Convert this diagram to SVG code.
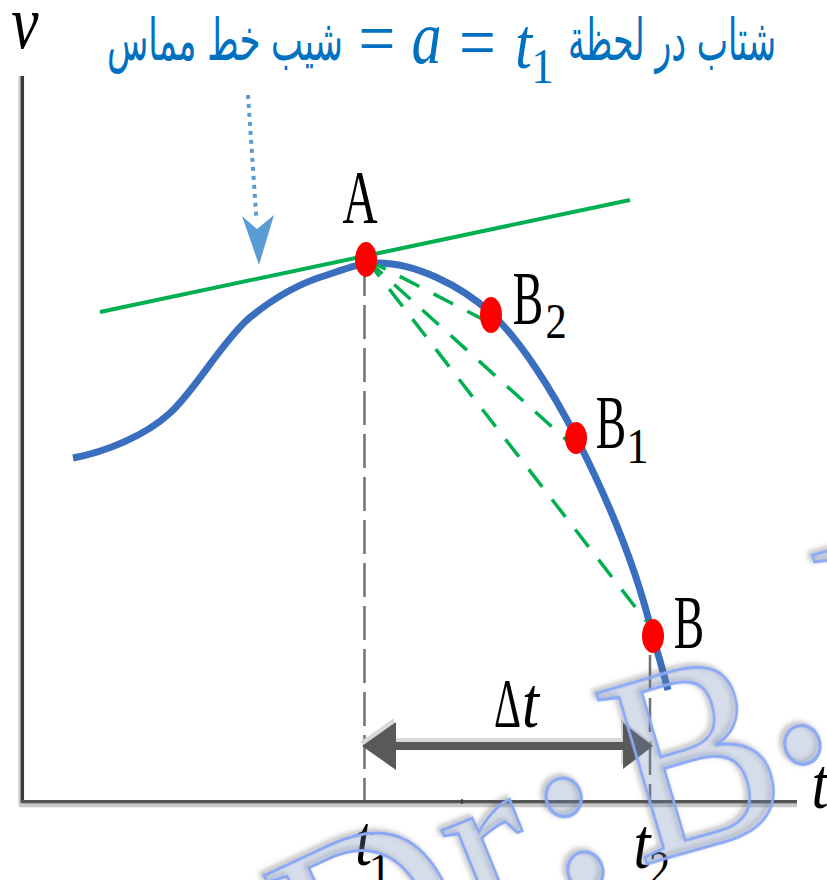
<svg xmlns="http://www.w3.org/2000/svg" width="827" height="880" viewBox="0 0 827 880">
<defs>
<style>
.lbl{font-family:"Liberation Serif","Times New Roman",serif;fill:#000;}
.it{font-style:italic;}
.ttl{fill:#0070c0;}
.ar{font-family:"DejaVu Sans","Noto Sans",sans-serif;fill:#0070c0;}
.wm{font-family:"Liberation Serif","Times New Roman",serif;fill:#7896cd;fill-opacity:0.2;stroke:#8ba8f5;stroke-width:3;}
.sec{fill:none;stroke:#00b050;stroke-width:3.5;stroke-dasharray:22 16;}
.vd{fill:none;stroke:#707070;stroke-width:2.5;stroke-dasharray:34 9;}
.dot{fill:#ff0000;}
</style>
<filter id="sh" x="-30%" y="-30%" width="160%" height="160%">
<feDropShadow dx="-3" dy="-2" stdDeviation="2.5" flood-color="#555" flood-opacity="0.55"/>
</filter>
</defs>
<rect width="827" height="880" fill="#fff"/>
<g id="axes">
<line x1="19.5" y1="76" x2="19.5" y2="805" stroke="#d0d0d0" stroke-width="2.5"/>
<line x1="22.3" y1="76" x2="22.3" y2="803" stroke="#383838" stroke-width="3.5"/>
<line x1="19" y1="805.5" x2="797" y2="805.5" stroke="#c8c8c8" stroke-width="3.5"/>
<line x1="21" y1="801.7" x2="797" y2="801.7" stroke="#555" stroke-width="3.5"/>
<line x1="462" y1="799" x2="462" y2="804" stroke="#333" stroke-width="1.5"/>
</g>
<g id="curve">
<path d="M73,458 C105,452 145,436 170,413 C195,390 220,345 247,320 C274,297 300,283 327,275 C345,269 360,263 378,263 C415,263 460,285 491,313 C520,340 552,390 576,437 C600,484 635,560 653,637 C660,660 664,675 668,690" fill="none" stroke="#3a6fbf" stroke-width="7"/>
</g>
<g id="connectors">
<line x1="100" y1="312" x2="630" y2="200" stroke="#00b050" stroke-width="4"/>
<line class="vd" x1="364.5" y1="262" x2="364.5" y2="800"/>
<line class="vd" x1="650" y1="655" x2="650" y2="800"/>
<line class="sec" x1="366" y1="259" x2="490" y2="323"/>
<line class="sec" x1="366" y1="259" x2="572" y2="445"/>
<line class="sec" x1="366" y1="259" x2="646" y2="621"/>
<line x1="248" y1="95" x2="256.5" y2="220" stroke="#5b9bd5" stroke-width="4" stroke-dasharray="4 5"/>
<polygon points="242,216 257,229 274,215 259,265" fill="#5b9bd5"/>
<g id="delta-arrow">
<path d="M360,742 L394,718 L394,738 L621,738 L621,719 L651,742 L621,765 L621,746 L394,746 L394,766 Z" fill="#d9d9d9"/>
<path d="M362,746 L396,722 L396,742 L623,742 L623,723 L653,746 L623,769 L623,750 L396,750 L396,770 Z" fill="#595959"/>
</g>
</g>
<g id="point-A">
<ellipse class="dot" cx="366" cy="259.5" rx="11" ry="17.5"/>
<text class="lbl" font-size="76" text-anchor="middle" transform="translate(360,223) scale(0.64,1)">A</text>
</g>
<g id="point-B2">
<ellipse class="dot" cx="491" cy="315" rx="11" ry="18"/>
<text class="lbl" font-size="76" text-anchor="middle" transform="translate(528,324) scale(0.6,1)">B</text>
<text class="lbl" font-size="50" text-anchor="middle" transform="translate(556,338) scale(0.85,1)">2</text>
</g>
<g id="point-B1">
<ellipse class="dot" cx="576" cy="438" rx="11" ry="16"/>
<text class="lbl" font-size="76" text-anchor="middle" transform="translate(611,448) scale(0.6,1)">B</text>
<text class="lbl" font-size="50" text-anchor="middle" transform="translate(637.5,463) scale(0.9,1)">1</text>
</g>
<g id="point-B">
<ellipse class="dot" cx="653" cy="636" rx="11" ry="17"/>
<text class="lbl" font-size="76" text-anchor="middle" transform="translate(689,648) scale(0.6,1)">B</text>
</g>
<g id="axis-labels">
<text class="lbl it" font-size="77" text-anchor="middle" transform="translate(25,48) scale(0.8,1)">v</text>
<text class="lbl it" font-size="72" text-anchor="middle" transform="translate(820,808) scale(0.85,1)">t</text>
<text class="lbl it" font-size="72" text-anchor="middle" transform="translate(363.5,865) scale(0.85,1)">t</text>
<text class="lbl" font-size="50" text-anchor="middle" transform="translate(380,887) scale(0.9,1)">1</text>
<text class="lbl it" font-size="72" text-anchor="middle" transform="translate(642,868) scale(0.85,1)">t</text>
<text class="lbl" font-size="50" text-anchor="middle" transform="translate(659.5,885) scale(0.85,1)">2</text>
<text class="lbl" font-size="70" text-anchor="middle" transform="translate(507.5,727) scale(0.6,1)">Δ</text>
<text class="lbl it" font-size="72" text-anchor="middle" transform="translate(530.5,727) scale(0.85,1)">t</text>
</g>
<g id="title">
<text class="ar" x="107" y="60" font-size="58" textLength="236" lengthAdjust="spacingAndGlyphs">شیب خط مماس</text>
<text class="lbl ttl" font-size="77" text-anchor="middle" transform="translate(377,64) scale(0.85,1)">=</text>
<text class="lbl ttl it" font-size="77" text-anchor="middle" transform="translate(426.5,63) scale(0.78,1)">a</text>
<text class="lbl ttl" font-size="77" text-anchor="middle" transform="translate(477.5,68) scale(0.85,1)">=</text>
<text class="lbl ttl it" font-size="72" text-anchor="middle" transform="translate(523.5,68) scale(0.85,1)">t</text>
<text class="lbl ttl" font-size="50" text-anchor="middle" transform="translate(542.5,83) scale(0.9,1)">1</text>
<text class="ar" x="568" y="60" font-size="58" textLength="208" lengthAdjust="spacingAndGlyphs">شتاب در لحظة</text>
</g>
<g id="watermark" filter="url(#sh)">
<text class="wm" font-size="272" transform="translate(333,1040) rotate(-25) scale(0.9,1)">D</text>
<text class="wm" font-size="272" transform="translate(484,948) rotate(-22) scale(0.9,1)">r</text>
<g transform="translate(640,866) rotate(-16.4)">
<text class="wm" font-size="272" transform="scale(0.9,1)">B</text>
<text class="wm" font-size="240" font-weight="bold" text-anchor="middle" transform="translate(-53,6) scale(0.9,1)" style="stroke-width:3.5">:</text>
<text class="wm" font-size="240" font-weight="bold" text-anchor="middle" transform="translate(190,-54) scale(0.9,1)" style="stroke-width:3.5">.</text>
</g>
<text class="wm" font-size="272" transform="translate(856,728) rotate(-16.4) scale(0.9,1)">B</text>
</g>
</svg>
